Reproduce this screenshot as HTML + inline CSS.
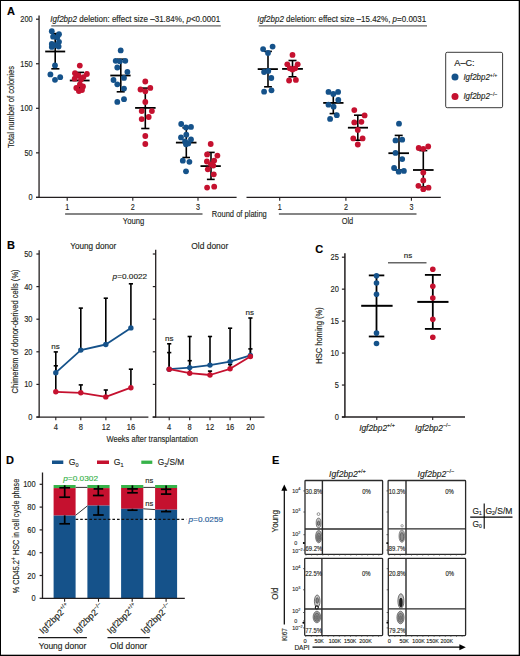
<!DOCTYPE html>
<html><head><meta charset="utf-8"><title>Figure</title><style>
html,body{margin:0;padding:0;background:#fff;overflow:hidden;}
svg{display:block;}
text{font-family:"Liberation Sans",sans-serif;}
</style></head><body>
<svg width="520" height="656" viewBox="0 0 520 656">
<rect x="0" y="0" width="520" height="656" fill="#fff"/>
<text x="6.9" y="14.9" font-size="11" fill="#000" font-weight="bold" stroke="#000" stroke-width="0.14">A</text>
<text x="7" y="249.1" font-size="11" fill="#000" font-weight="bold" stroke="#000" stroke-width="0.14">B</text>
<text x="315.2" y="252.9" font-size="11" fill="#000" font-weight="bold" stroke="#000" stroke-width="0.14">C</text>
<text x="6.1" y="463.8" font-size="11" fill="#000" font-weight="bold" stroke="#000" stroke-width="0.14">D</text>
<text x="271.9" y="463.8" font-size="11" fill="#000" font-weight="bold" stroke="#000" stroke-width="0.14">E</text>
<line x1="39.05" y1="15.4" x2="39.05" y2="197.4" stroke="#231f20" stroke-width="1.3"/>
<line x1="36" y1="19.2" x2="39" y2="19.2" stroke="#231f20" stroke-width="1.2"/>
<text x="32.6" y="22.2" font-size="8.5" fill="#231f20" text-anchor="end" textLength="12.3" lengthAdjust="spacingAndGlyphs" stroke="#231f20" stroke-width="0.14">200</text>
<line x1="36" y1="63.75" x2="39" y2="63.75" stroke="#231f20" stroke-width="1.2"/>
<text x="32.6" y="66.75" font-size="8.5" fill="#231f20" text-anchor="end" textLength="12.3" lengthAdjust="spacingAndGlyphs" stroke="#231f20" stroke-width="0.14">150</text>
<line x1="36" y1="108.3" x2="39" y2="108.3" stroke="#231f20" stroke-width="1.2"/>
<text x="32.6" y="111.3" font-size="8.5" fill="#231f20" text-anchor="end" textLength="12.3" lengthAdjust="spacingAndGlyphs" stroke="#231f20" stroke-width="0.14">100</text>
<line x1="36" y1="152.85" x2="39" y2="152.85" stroke="#231f20" stroke-width="1.2"/>
<text x="32.6" y="155.85" font-size="8.5" fill="#231f20" text-anchor="end" textLength="8.2" lengthAdjust="spacingAndGlyphs" stroke="#231f20" stroke-width="0.14">50</text>
<line x1="36" y1="197.4" x2="39" y2="197.4" stroke="#231f20" stroke-width="1.2"/>
<text x="32.6" y="200.4" font-size="8.5" fill="#231f20" text-anchor="end" textLength="4.1" lengthAdjust="spacingAndGlyphs" stroke="#231f20" stroke-width="0.14">0</text>
<line x1="36" y1="197.35" x2="236.6" y2="197.35" stroke="#231f20" stroke-width="1.3"/>
<line x1="246.5" y1="197.35" x2="440.8" y2="197.35" stroke="#231f20" stroke-width="1.3"/>
<line x1="67.2" y1="197.35" x2="67.2" y2="200.7" stroke="#231f20" stroke-width="1.1"/>
<text x="67.2" y="209.6" font-size="8.2" fill="#231f20" text-anchor="middle" textLength="4" lengthAdjust="spacingAndGlyphs" stroke="#231f20" stroke-width="0.14">1</text>
<line x1="132.8" y1="197.35" x2="132.8" y2="200.7" stroke="#231f20" stroke-width="1.1"/>
<text x="132.8" y="209.6" font-size="8.2" fill="#231f20" text-anchor="middle" textLength="4" lengthAdjust="spacingAndGlyphs" stroke="#231f20" stroke-width="0.14">2</text>
<line x1="198" y1="197.35" x2="198" y2="200.7" stroke="#231f20" stroke-width="1.1"/>
<text x="198" y="209.6" font-size="8.2" fill="#231f20" text-anchor="middle" textLength="4" lengthAdjust="spacingAndGlyphs" stroke="#231f20" stroke-width="0.14">3</text>
<line x1="279.7" y1="197.35" x2="279.7" y2="200.7" stroke="#231f20" stroke-width="1.1"/>
<text x="279.7" y="209.6" font-size="8.2" fill="#231f20" text-anchor="middle" textLength="4" lengthAdjust="spacingAndGlyphs" stroke="#231f20" stroke-width="0.14">1</text>
<line x1="345.9" y1="197.35" x2="345.9" y2="200.7" stroke="#231f20" stroke-width="1.1"/>
<text x="345.9" y="209.6" font-size="8.2" fill="#231f20" text-anchor="middle" textLength="4" lengthAdjust="spacingAndGlyphs" stroke="#231f20" stroke-width="0.14">2</text>
<line x1="411.4" y1="197.35" x2="411.4" y2="200.7" stroke="#231f20" stroke-width="1.1"/>
<text x="411.4" y="209.6" font-size="8.2" fill="#231f20" text-anchor="middle" textLength="4" lengthAdjust="spacingAndGlyphs" stroke="#231f20" stroke-width="0.14">3</text>
<line x1="65.1" y1="213.9" x2="202.5" y2="213.9" stroke="#5c5c5c" stroke-width="1.5"/>
<line x1="278.9" y1="213.9" x2="416.5" y2="213.9" stroke="#5c5c5c" stroke-width="1.5"/>
<text x="133.6" y="223.8" font-size="9.5" fill="#231f20" text-anchor="middle" textLength="21.5" lengthAdjust="spacingAndGlyphs" stroke="#231f20" stroke-width="0.14">Young</text>
<text x="347.4" y="223.8" font-size="9.5" fill="#231f20" text-anchor="middle" textLength="11.5" lengthAdjust="spacingAndGlyphs" stroke="#231f20" stroke-width="0.14">Old</text>
<text x="211.8" y="216.8" font-size="9.5" fill="#231f20" textLength="55" lengthAdjust="spacingAndGlyphs" stroke="#231f20" stroke-width="0.14">Round of plating</text>
<text transform="translate(14.2,107) rotate(-90)" font-size="9" fill="#231f20" text-anchor="middle" textLength="82" lengthAdjust="spacingAndGlyphs" stroke="#231f20" stroke-width="0.14">Total number of colonies</text>
<text x="50.2" y="21.6" font-size="8.5" fill="#231f20" textLength="170" lengthAdjust="spacingAndGlyphs" stroke="#231f20" stroke-width="0.14"><tspan font-style="italic">Igf2bp2</tspan> deletion: effect size –31.84%, <tspan font-style="italic">p</tspan>&lt;0.0001</text>
<text x="257.2" y="21.6" font-size="8.5" fill="#231f20" textLength="169" lengthAdjust="spacingAndGlyphs" stroke="#231f20" stroke-width="0.14"><tspan font-style="italic">Igf2bp2</tspan> deletion: effect size –15.42%, <tspan font-style="italic">p</tspan>=0.0031</text>
<line x1="51.3" y1="25.9" x2="220.8" y2="25.9" stroke="#666" stroke-width="1.4"/>
<line x1="258.7" y1="25.9" x2="427" y2="25.9" stroke="#666" stroke-width="1.4"/>
<rect x="445.7" y="52.3" width="56.9" height="55.4" rx="1.5" fill="#fff" stroke="#3a3a3a" stroke-width="1"/>
<text x="454.3" y="65.5" font-size="9.6" fill="#231f20" textLength="20.3" lengthAdjust="spacingAndGlyphs" stroke="#231f20" stroke-width="0.14">A–C:</text>
<circle cx="455" cy="77" r="3.5" fill="#15528a"/>
<circle cx="455" cy="96.5" r="3.5" fill="#c5112f"/>
<text x="463.4" y="80.3" font-size="8.4" fill="#231f20" font-style="italic" textLength="34" lengthAdjust="spacingAndGlyphs" stroke="#231f20" stroke-width="0.14">Igf2bp2<tspan font-size="5.5" dy="-3.6" font-style="normal">+/+</tspan></text>
<text x="463.4" y="99.3" font-size="8.4" fill="#231f20" font-style="italic" textLength="34" lengthAdjust="spacingAndGlyphs" stroke="#231f20" stroke-width="0.14">Igf2bp2<tspan font-size="5.5" dy="-3.6" font-style="normal">−/−</tspan></text>
<line x1="55.2" y1="33.6" x2="55.2" y2="68.8" stroke="#000" stroke-width="1.6"/>
<line x1="51.3" y1="33.6" x2="59.4" y2="33.6" stroke="#000" stroke-width="1.6"/>
<line x1="51.3" y1="68.8" x2="59.4" y2="68.8" stroke="#000" stroke-width="1.6"/>
<line x1="45.2" y1="51.5" x2="65.2" y2="51.5" stroke="#000" stroke-width="1.8"/>
<circle cx="51.8" cy="31.2" r="2.9" fill="#15528a"/>
<circle cx="59" cy="34.2" r="2.9" fill="#15528a"/>
<circle cx="53.1" cy="36.7" r="2.9" fill="#15528a"/>
<circle cx="57.3" cy="37.2" r="2.9" fill="#15528a"/>
<circle cx="59" cy="41.8" r="2.9" fill="#15528a"/>
<circle cx="51.8" cy="43.9" r="2.9" fill="#15528a"/>
<circle cx="56" cy="45.2" r="2.9" fill="#15528a"/>
<circle cx="58.6" cy="46.5" r="2.9" fill="#15528a"/>
<circle cx="51.8" cy="46.9" r="2.9" fill="#15528a"/>
<circle cx="55" cy="65.4" r="2.9" fill="#15528a"/>
<circle cx="50.4" cy="74.4" r="2.9" fill="#15528a"/>
<circle cx="55" cy="79.8" r="2.9" fill="#15528a"/>
<circle cx="60.2" cy="77.2" r="2.9" fill="#15528a"/>
<line x1="79.8" y1="72.4" x2="79.8" y2="88.6" stroke="#000" stroke-width="1.6"/>
<line x1="76" y1="72.4" x2="84" y2="72.4" stroke="#000" stroke-width="1.6"/>
<line x1="76" y1="88.6" x2="84" y2="88.6" stroke="#000" stroke-width="1.6"/>
<line x1="69.8" y1="80.5" x2="89.6" y2="80.5" stroke="#000" stroke-width="1.8"/>
<circle cx="79.8" cy="65.6" r="2.9" fill="#c5112f"/>
<circle cx="75" cy="73.2" r="2.9" fill="#c5112f"/>
<circle cx="86.9" cy="74" r="2.9" fill="#c5112f"/>
<circle cx="78.4" cy="75.5" r="2.9" fill="#c5112f"/>
<circle cx="83.5" cy="77.1" r="2.9" fill="#c5112f"/>
<circle cx="74.7" cy="78.7" r="2.9" fill="#c5112f"/>
<circle cx="81" cy="79.5" r="2.9" fill="#c5112f"/>
<circle cx="79.9" cy="84.4" r="2.9" fill="#c5112f"/>
<circle cx="76.3" cy="88" r="2.9" fill="#c5112f"/>
<circle cx="83" cy="86.4" r="2.9" fill="#c5112f"/>
<circle cx="78.9" cy="91.1" r="2.9" fill="#c5112f"/>
<circle cx="82" cy="90" r="2.9" fill="#c5112f"/>
<line x1="120.8" y1="59.2" x2="120.8" y2="91.8" stroke="#000" stroke-width="1.6"/>
<line x1="116.7" y1="59.2" x2="124.7" y2="59.2" stroke="#000" stroke-width="1.6"/>
<line x1="116.7" y1="91.8" x2="124.7" y2="91.8" stroke="#000" stroke-width="1.6"/>
<line x1="110.3" y1="75.5" x2="130.6" y2="75.5" stroke="#000" stroke-width="1.8"/>
<circle cx="120.7" cy="50.4" r="2.9" fill="#15528a"/>
<circle cx="115.7" cy="60.8" r="2.9" fill="#15528a"/>
<circle cx="119.9" cy="61.3" r="2.9" fill="#15528a"/>
<circle cx="125.3" cy="60.8" r="2.9" fill="#15528a"/>
<circle cx="117.3" cy="67.5" r="2.9" fill="#15528a"/>
<circle cx="127.4" cy="72" r="2.9" fill="#15528a"/>
<circle cx="124" cy="77.9" r="2.9" fill="#15528a"/>
<circle cx="113.5" cy="80" r="2.9" fill="#15528a"/>
<circle cx="117.3" cy="84.3" r="2.9" fill="#15528a"/>
<circle cx="124" cy="88.6" r="2.9" fill="#15528a"/>
<circle cx="117.3" cy="101.9" r="2.9" fill="#15528a"/>
<circle cx="124" cy="99.2" r="2.9" fill="#15528a"/>
<line x1="145.3" y1="88.1" x2="145.3" y2="128.5" stroke="#000" stroke-width="1.6"/>
<line x1="141.2" y1="88.1" x2="149.4" y2="88.1" stroke="#000" stroke-width="1.6"/>
<line x1="141.2" y1="128.5" x2="149.4" y2="128.5" stroke="#000" stroke-width="1.6"/>
<line x1="135.1" y1="107.9" x2="155.6" y2="107.9" stroke="#000" stroke-width="1.8"/>
<circle cx="145.3" cy="81.5" r="2.9" fill="#c5112f"/>
<circle cx="140.5" cy="89.5" r="2.9" fill="#c5112f"/>
<circle cx="150.3" cy="87.9" r="2.9" fill="#c5112f"/>
<circle cx="145.3" cy="91.3" r="2.9" fill="#c5112f"/>
<circle cx="145.3" cy="102" r="2.9" fill="#c5112f"/>
<circle cx="141.7" cy="111.1" r="2.9" fill="#c5112f"/>
<circle cx="151.9" cy="111.1" r="2.9" fill="#c5112f"/>
<circle cx="148.7" cy="117" r="2.9" fill="#c5112f"/>
<circle cx="141.7" cy="119.1" r="2.9" fill="#c5112f"/>
<circle cx="145.3" cy="136" r="2.9" fill="#c5112f"/>
<circle cx="145.3" cy="144" r="2.9" fill="#c5112f"/>
<line x1="186.3" y1="127.8" x2="186.3" y2="157.5" stroke="#000" stroke-width="1.6"/>
<line x1="182.4" y1="127.8" x2="190" y2="127.8" stroke="#000" stroke-width="1.6"/>
<line x1="182.4" y1="157.5" x2="190" y2="157.5" stroke="#000" stroke-width="1.6"/>
<line x1="175.9" y1="142.6" x2="196.5" y2="142.6" stroke="#000" stroke-width="1.8"/>
<circle cx="181.2" cy="124" r="2.9" fill="#15528a"/>
<circle cx="186" cy="127.4" r="2.9" fill="#15528a"/>
<circle cx="191" cy="126.9" r="2.9" fill="#15528a"/>
<circle cx="186.3" cy="134.7" r="2.9" fill="#15528a"/>
<circle cx="181" cy="137.4" r="2.9" fill="#15528a"/>
<circle cx="191" cy="139.5" r="2.9" fill="#15528a"/>
<circle cx="185.1" cy="141.5" r="2.9" fill="#15528a"/>
<circle cx="188.3" cy="143.4" r="2.9" fill="#15528a"/>
<circle cx="186" cy="144.3" r="2.9" fill="#15528a"/>
<circle cx="182.8" cy="160.7" r="2.9" fill="#15528a"/>
<circle cx="189.4" cy="161.8" r="2.9" fill="#15528a"/>
<circle cx="186" cy="171.3" r="2.9" fill="#15528a"/>
<line x1="211" y1="152.4" x2="211" y2="179.4" stroke="#000" stroke-width="1.6"/>
<line x1="206.9" y1="152.4" x2="214.7" y2="152.4" stroke="#000" stroke-width="1.6"/>
<line x1="206.9" y1="179.4" x2="214.7" y2="179.4" stroke="#000" stroke-width="1.6"/>
<line x1="200.5" y1="166.1" x2="220.8" y2="166.1" stroke="#000" stroke-width="1.8"/>
<circle cx="210.7" cy="144" r="2.9" fill="#c5112f"/>
<circle cx="207.1" cy="154.4" r="2.9" fill="#c5112f"/>
<circle cx="217.4" cy="155.6" r="2.9" fill="#c5112f"/>
<circle cx="214.2" cy="160.6" r="2.9" fill="#c5112f"/>
<circle cx="206.9" cy="161.5" r="2.9" fill="#c5112f"/>
<circle cx="211" cy="164.3" r="2.9" fill="#c5112f"/>
<circle cx="213.3" cy="165.6" r="2.9" fill="#c5112f"/>
<circle cx="207.8" cy="169.3" r="2.9" fill="#c5112f"/>
<circle cx="213.8" cy="174.3" r="2.9" fill="#c5112f"/>
<circle cx="207.1" cy="187.6" r="2.9" fill="#c5112f"/>
<circle cx="214.2" cy="186.7" r="2.9" fill="#c5112f"/>
<line x1="268" y1="51.4" x2="268" y2="86.8" stroke="#000" stroke-width="1.6"/>
<line x1="264.1" y1="51.4" x2="271.9" y2="51.4" stroke="#000" stroke-width="1.6"/>
<line x1="264.1" y1="86.8" x2="271.9" y2="86.8" stroke="#000" stroke-width="1.6"/>
<line x1="257.7" y1="69.1" x2="277.9" y2="69.1" stroke="#000" stroke-width="1.8"/>
<circle cx="263.1" cy="49.1" r="2.9" fill="#15528a"/>
<circle cx="272.6" cy="46.6" r="2.9" fill="#15528a"/>
<circle cx="268" cy="53" r="2.9" fill="#15528a"/>
<circle cx="264.1" cy="72" r="2.9" fill="#15528a"/>
<circle cx="268.3" cy="70.9" r="2.9" fill="#15528a"/>
<circle cx="271.3" cy="78" r="2.9" fill="#15528a"/>
<circle cx="264.1" cy="91.7" r="2.9" fill="#15528a"/>
<circle cx="271.5" cy="90.3" r="2.9" fill="#15528a"/>
<line x1="292.5" y1="60.5" x2="292.5" y2="76.8" stroke="#000" stroke-width="1.6"/>
<line x1="288.5" y1="60.5" x2="296.5" y2="60.5" stroke="#000" stroke-width="1.6"/>
<line x1="288.5" y1="76.8" x2="296.5" y2="76.8" stroke="#000" stroke-width="1.6"/>
<line x1="282.1" y1="68.9" x2="302.9" y2="68.9" stroke="#000" stroke-width="1.8"/>
<circle cx="292.5" cy="54.9" r="2.9" fill="#c5112f"/>
<circle cx="287.3" cy="64.3" r="2.9" fill="#c5112f"/>
<circle cx="297.7" cy="64.3" r="2.9" fill="#c5112f"/>
<circle cx="289.8" cy="68.3" r="2.9" fill="#c5112f"/>
<circle cx="292.5" cy="69.5" r="2.9" fill="#c5112f"/>
<circle cx="295.2" cy="68.3" r="2.9" fill="#c5112f"/>
<circle cx="289.1" cy="80.5" r="2.9" fill="#c5112f"/>
<circle cx="295.9" cy="79.9" r="2.9" fill="#c5112f"/>
<line x1="333.3" y1="93.3" x2="333.3" y2="113.6" stroke="#000" stroke-width="1.6"/>
<line x1="329.6" y1="93.3" x2="337" y2="93.3" stroke="#000" stroke-width="1.6"/>
<line x1="329.6" y1="113.6" x2="337" y2="113.6" stroke="#000" stroke-width="1.6"/>
<line x1="323.2" y1="102.9" x2="343.5" y2="102.9" stroke="#000" stroke-width="1.8"/>
<circle cx="328.5" cy="91.9" r="2.9" fill="#15528a"/>
<circle cx="333.3" cy="93.9" r="2.9" fill="#15528a"/>
<circle cx="338.1" cy="91.9" r="2.9" fill="#15528a"/>
<circle cx="338.3" cy="100" r="2.9" fill="#15528a"/>
<circle cx="328.5" cy="104.7" r="2.9" fill="#15528a"/>
<circle cx="333.6" cy="106.7" r="2.9" fill="#15528a"/>
<circle cx="336.8" cy="115.2" r="2.9" fill="#15528a"/>
<circle cx="330.1" cy="118.9" r="2.9" fill="#15528a"/>
<line x1="357.8" y1="115.2" x2="357.8" y2="140.2" stroke="#000" stroke-width="1.6"/>
<line x1="354" y1="115.2" x2="362" y2="115.2" stroke="#000" stroke-width="1.6"/>
<line x1="354" y1="140.2" x2="362" y2="140.2" stroke="#000" stroke-width="1.6"/>
<line x1="347.9" y1="127.7" x2="368" y2="127.7" stroke="#000" stroke-width="1.8"/>
<circle cx="354.3" cy="110.1" r="2.9" fill="#c5112f"/>
<circle cx="364.6" cy="115.4" r="2.9" fill="#c5112f"/>
<circle cx="354.3" cy="122.4" r="2.9" fill="#c5112f"/>
<circle cx="361.4" cy="121.8" r="2.9" fill="#c5112f"/>
<circle cx="357.8" cy="129.9" r="2.9" fill="#c5112f"/>
<circle cx="353.3" cy="138.4" r="2.9" fill="#c5112f"/>
<circle cx="362.6" cy="138.4" r="2.9" fill="#c5112f"/>
<circle cx="357.8" cy="144.5" r="2.9" fill="#c5112f"/>
<line x1="399" y1="135.4" x2="399" y2="170" stroke="#000" stroke-width="1.6"/>
<line x1="394.7" y1="135.4" x2="402.7" y2="135.4" stroke="#000" stroke-width="1.6"/>
<line x1="394.7" y1="170" x2="402.7" y2="170" stroke="#000" stroke-width="1.6"/>
<line x1="388.4" y1="153.2" x2="409" y2="153.2" stroke="#000" stroke-width="1.8"/>
<circle cx="399" cy="123.7" r="2.9" fill="#15528a"/>
<circle cx="395.5" cy="140.4" r="2.9" fill="#15528a"/>
<circle cx="402.2" cy="139.7" r="2.9" fill="#15528a"/>
<circle cx="395.5" cy="152.9" r="2.9" fill="#15528a"/>
<circle cx="402.2" cy="159.1" r="2.9" fill="#15528a"/>
<circle cx="394.1" cy="168" r="2.9" fill="#15528a"/>
<circle cx="398.7" cy="171.7" r="2.9" fill="#15528a"/>
<circle cx="403.9" cy="170.9" r="2.9" fill="#15528a"/>
<line x1="423.3" y1="150.6" x2="423.3" y2="187" stroke="#000" stroke-width="1.6"/>
<line x1="419.3" y1="150.6" x2="427.3" y2="150.6" stroke="#000" stroke-width="1.6"/>
<line x1="419.3" y1="187" x2="427.3" y2="187" stroke="#000" stroke-width="1.6"/>
<line x1="413" y1="170" x2="433.6" y2="170" stroke="#000" stroke-width="1.8"/>
<circle cx="418.7" cy="148" r="2.9" fill="#c5112f"/>
<circle cx="423.3" cy="148.8" r="2.9" fill="#c5112f"/>
<circle cx="428.2" cy="146.5" r="2.9" fill="#c5112f"/>
<circle cx="423.3" cy="172.6" r="2.9" fill="#c5112f"/>
<circle cx="423.3" cy="180.4" r="2.9" fill="#c5112f"/>
<circle cx="418.4" cy="185.8" r="2.9" fill="#c5112f"/>
<circle cx="423.3" cy="189.2" r="2.9" fill="#c5112f"/>
<circle cx="428.5" cy="187.7" r="2.9" fill="#c5112f"/>
<line x1="39.15" y1="250.2" x2="39.15" y2="417.6" stroke="#231f20" stroke-width="1.3"/>
<line x1="155.7" y1="249.8" x2="155.7" y2="417.6" stroke="#231f20" stroke-width="1.3"/>
<line x1="36.4" y1="254" x2="39.2" y2="254" stroke="#231f20" stroke-width="1.2"/>
<line x1="152.8" y1="254" x2="155.7" y2="254" stroke="#231f20" stroke-width="1.2"/>
<text x="32.5" y="257" font-size="8.5" fill="#231f20" text-anchor="end" textLength="8.3" lengthAdjust="spacingAndGlyphs" stroke="#231f20" stroke-width="0.14">50</text>
<line x1="36.4" y1="286.6" x2="39.2" y2="286.6" stroke="#231f20" stroke-width="1.2"/>
<line x1="152.8" y1="286.6" x2="155.7" y2="286.6" stroke="#231f20" stroke-width="1.2"/>
<text x="32.5" y="289.6" font-size="8.5" fill="#231f20" text-anchor="end" textLength="8.3" lengthAdjust="spacingAndGlyphs" stroke="#231f20" stroke-width="0.14">40</text>
<line x1="36.4" y1="319.2" x2="39.2" y2="319.2" stroke="#231f20" stroke-width="1.2"/>
<line x1="152.8" y1="319.2" x2="155.7" y2="319.2" stroke="#231f20" stroke-width="1.2"/>
<text x="32.5" y="322.2" font-size="8.5" fill="#231f20" text-anchor="end" textLength="8.3" lengthAdjust="spacingAndGlyphs" stroke="#231f20" stroke-width="0.14">30</text>
<line x1="36.4" y1="351.8" x2="39.2" y2="351.8" stroke="#231f20" stroke-width="1.2"/>
<line x1="152.8" y1="351.8" x2="155.7" y2="351.8" stroke="#231f20" stroke-width="1.2"/>
<text x="32.5" y="354.8" font-size="8.5" fill="#231f20" text-anchor="end" textLength="8.3" lengthAdjust="spacingAndGlyphs" stroke="#231f20" stroke-width="0.14">20</text>
<line x1="36.4" y1="384.4" x2="39.2" y2="384.4" stroke="#231f20" stroke-width="1.2"/>
<line x1="152.8" y1="384.4" x2="155.7" y2="384.4" stroke="#231f20" stroke-width="1.2"/>
<text x="32.5" y="387.4" font-size="8.5" fill="#231f20" text-anchor="end" textLength="8.3" lengthAdjust="spacingAndGlyphs" stroke="#231f20" stroke-width="0.14">10</text>
<line x1="36.4" y1="417" x2="39.2" y2="417" stroke="#231f20" stroke-width="1.2"/>
<line x1="152.8" y1="417" x2="155.7" y2="417" stroke="#231f20" stroke-width="1.2"/>
<text x="32.5" y="420" font-size="8.5" fill="#231f20" text-anchor="end" textLength="4.15" lengthAdjust="spacingAndGlyphs" stroke="#231f20" stroke-width="0.14">0</text>
<line x1="36.4" y1="417.05" x2="148.4" y2="417.05" stroke="#231f20" stroke-width="1.3"/>
<line x1="152.6" y1="417.05" x2="264.5" y2="417.05" stroke="#231f20" stroke-width="1.3"/>
<line x1="55.8" y1="417" x2="55.8" y2="420.3" stroke="#231f20" stroke-width="1.1"/>
<text x="55.8" y="429.6" font-size="8.5" fill="#231f20" text-anchor="middle" textLength="4.2" lengthAdjust="spacingAndGlyphs" stroke="#231f20" stroke-width="0.14">4</text>
<line x1="80.8" y1="417" x2="80.8" y2="420.3" stroke="#231f20" stroke-width="1.1"/>
<text x="80.8" y="429.6" font-size="8.5" fill="#231f20" text-anchor="middle" textLength="4.2" lengthAdjust="spacingAndGlyphs" stroke="#231f20" stroke-width="0.14">8</text>
<line x1="105.9" y1="417" x2="105.9" y2="420.3" stroke="#231f20" stroke-width="1.1"/>
<text x="105.9" y="429.6" font-size="8.5" fill="#231f20" text-anchor="middle" textLength="8.4" lengthAdjust="spacingAndGlyphs" stroke="#231f20" stroke-width="0.14">12</text>
<line x1="130.9" y1="417" x2="130.9" y2="420.3" stroke="#231f20" stroke-width="1.1"/>
<text x="130.9" y="429.6" font-size="8.5" fill="#231f20" text-anchor="middle" textLength="8.4" lengthAdjust="spacingAndGlyphs" stroke="#231f20" stroke-width="0.14">16</text>
<line x1="169.2" y1="417" x2="169.2" y2="420.3" stroke="#231f20" stroke-width="1.1"/>
<text x="169.2" y="429.6" font-size="8.5" fill="#231f20" text-anchor="middle" textLength="4.2" lengthAdjust="spacingAndGlyphs" stroke="#231f20" stroke-width="0.14">4</text>
<line x1="189.7" y1="417" x2="189.7" y2="420.3" stroke="#231f20" stroke-width="1.1"/>
<text x="189.7" y="429.6" font-size="8.5" fill="#231f20" text-anchor="middle" textLength="4.2" lengthAdjust="spacingAndGlyphs" stroke="#231f20" stroke-width="0.14">8</text>
<line x1="210" y1="417" x2="210" y2="420.3" stroke="#231f20" stroke-width="1.1"/>
<text x="210" y="429.6" font-size="8.5" fill="#231f20" text-anchor="middle" textLength="8.4" lengthAdjust="spacingAndGlyphs" stroke="#231f20" stroke-width="0.14">12</text>
<line x1="230.1" y1="417" x2="230.1" y2="420.3" stroke="#231f20" stroke-width="1.1"/>
<text x="230.1" y="429.6" font-size="8.5" fill="#231f20" text-anchor="middle" textLength="8.4" lengthAdjust="spacingAndGlyphs" stroke="#231f20" stroke-width="0.14">16</text>
<line x1="250.4" y1="417" x2="250.4" y2="420.3" stroke="#231f20" stroke-width="1.1"/>
<text x="250.4" y="429.6" font-size="8.5" fill="#231f20" text-anchor="middle" textLength="8.4" lengthAdjust="spacingAndGlyphs" stroke="#231f20" stroke-width="0.14">20</text>
<text x="93.3" y="249.3" font-size="8.5" fill="#231f20" text-anchor="middle" textLength="46" lengthAdjust="spacingAndGlyphs" stroke="#231f20" stroke-width="0.14">Young donor</text>
<text x="209.8" y="249.3" font-size="8.5" fill="#231f20" text-anchor="middle" textLength="37" lengthAdjust="spacingAndGlyphs" stroke="#231f20" stroke-width="0.14">Old donor</text>
<text x="112.6" y="279.3" font-size="8" fill="#231f20" textLength="34.6" lengthAdjust="spacingAndGlyphs" stroke="#231f20" stroke-width="0.14"><tspan font-style="italic">p</tspan>=0.0022</text>
<text x="55.5" y="348.6" font-size="8" fill="#231f20" text-anchor="middle" stroke="#231f20" stroke-width="0.14">ns</text>
<text x="169.2" y="340.5" font-size="8" fill="#231f20" text-anchor="middle" stroke="#231f20" stroke-width="0.14">ns</text>
<text x="249.7" y="315.1" font-size="8" fill="#231f20" text-anchor="middle" stroke="#231f20" stroke-width="0.14">ns</text>
<text x="106.5" y="442.1" font-size="9.4" fill="#231f20" textLength="91.5" lengthAdjust="spacingAndGlyphs" stroke="#231f20" stroke-width="0.14">Weeks after transplantation</text>
<text transform="translate(18,331.4) rotate(-90)" font-size="8.9" fill="#231f20" text-anchor="middle" textLength="124" lengthAdjust="spacingAndGlyphs" stroke="#231f20" stroke-width="0.14">Chimerism of donor-derived cells (%)</text>
<line x1="55.8" y1="372.7" x2="55.8" y2="351.9" stroke="#000" stroke-width="1.6"/>
<line x1="53.7" y1="351.9" x2="57.9" y2="351.9" stroke="#000" stroke-width="1.6"/>
<line x1="80.8" y1="350.1" x2="80.8" y2="308.1" stroke="#000" stroke-width="1.6"/>
<line x1="78.7" y1="308.1" x2="82.9" y2="308.1" stroke="#000" stroke-width="1.6"/>
<line x1="105.8" y1="344.5" x2="105.8" y2="298.2" stroke="#000" stroke-width="1.6"/>
<line x1="103.7" y1="298.2" x2="107.9" y2="298.2" stroke="#000" stroke-width="1.6"/>
<line x1="130.9" y1="327.9" x2="130.9" y2="283.8" stroke="#000" stroke-width="1.6"/>
<line x1="128.8" y1="283.8" x2="133" y2="283.8" stroke="#000" stroke-width="1.6"/>
<line x1="55.8" y1="391.8" x2="55.8" y2="365.8" stroke="#000" stroke-width="1.6"/>
<line x1="53.7" y1="365.8" x2="57.9" y2="365.8" stroke="#000" stroke-width="1.6"/>
<line x1="80.8" y1="392.8" x2="80.8" y2="384.9" stroke="#000" stroke-width="1.6"/>
<line x1="78.7" y1="384.9" x2="82.9" y2="384.9" stroke="#000" stroke-width="1.6"/>
<line x1="105.8" y1="396.9" x2="105.8" y2="390" stroke="#000" stroke-width="1.6"/>
<line x1="103.7" y1="390" x2="107.9" y2="390" stroke="#000" stroke-width="1.6"/>
<line x1="130.9" y1="387.7" x2="130.9" y2="369.2" stroke="#000" stroke-width="1.6"/>
<line x1="128.8" y1="369.2" x2="133" y2="369.2" stroke="#000" stroke-width="1.6"/>
<line x1="169.2" y1="369.2" x2="169.2" y2="343.8" stroke="#000" stroke-width="1.6"/>
<line x1="167.1" y1="343.8" x2="171.3" y2="343.8" stroke="#000" stroke-width="1.6"/>
<line x1="189.7" y1="367.6" x2="189.7" y2="336.5" stroke="#000" stroke-width="1.6"/>
<line x1="187.6" y1="336.5" x2="191.8" y2="336.5" stroke="#000" stroke-width="1.6"/>
<line x1="210" y1="365.1" x2="210" y2="336.5" stroke="#000" stroke-width="1.6"/>
<line x1="207.9" y1="336.5" x2="212.1" y2="336.5" stroke="#000" stroke-width="1.6"/>
<line x1="230.1" y1="361.6" x2="230.1" y2="328.2" stroke="#000" stroke-width="1.6"/>
<line x1="228" y1="328.2" x2="232.2" y2="328.2" stroke="#000" stroke-width="1.6"/>
<line x1="250.4" y1="355.4" x2="250.4" y2="318" stroke="#000" stroke-width="1.6"/>
<line x1="248.3" y1="318" x2="252.5" y2="318" stroke="#000" stroke-width="1.6"/>
<line x1="169.2" y1="369.2" x2="169.2" y2="352.6" stroke="#000" stroke-width="1.6"/>
<line x1="167.1" y1="352.6" x2="171.3" y2="352.6" stroke="#000" stroke-width="1.6"/>
<line x1="189.7" y1="373.2" x2="189.7" y2="360.7" stroke="#000" stroke-width="1.6"/>
<line x1="187.6" y1="360.7" x2="191.8" y2="360.7" stroke="#000" stroke-width="1.6"/>
<line x1="210" y1="375" x2="210" y2="371.1" stroke="#000" stroke-width="1.6"/>
<line x1="207.9" y1="371.1" x2="212.1" y2="371.1" stroke="#000" stroke-width="1.6"/>
<line x1="230.1" y1="368.8" x2="230.1" y2="364.6" stroke="#000" stroke-width="1.6"/>
<line x1="228" y1="364.6" x2="232.2" y2="364.6" stroke="#000" stroke-width="1.6"/>
<line x1="250.4" y1="356.5" x2="250.4" y2="348.9" stroke="#000" stroke-width="1.6"/>
<line x1="248.3" y1="348.9" x2="252.5" y2="348.9" stroke="#000" stroke-width="1.6"/>
<polyline points="55.8,372.7 80.8,350.1 105.8,344.5 130.9,327.9" fill="none" stroke="#15528a" stroke-width="1.8" stroke-linejoin="round"/>
<circle cx="55.8" cy="372.7" r="2.7" fill="#15528a"/>
<circle cx="80.8" cy="350.1" r="2.7" fill="#15528a"/>
<circle cx="105.8" cy="344.5" r="2.7" fill="#15528a"/>
<circle cx="130.9" cy="327.9" r="2.7" fill="#15528a"/>
<polyline points="55.8,391.8 80.8,392.8 105.8,396.9 130.9,387.7" fill="none" stroke="#c5112f" stroke-width="1.8" stroke-linejoin="round"/>
<circle cx="55.8" cy="391.8" r="2.7" fill="#c5112f"/>
<circle cx="80.8" cy="392.8" r="2.7" fill="#c5112f"/>
<circle cx="105.8" cy="396.9" r="2.7" fill="#c5112f"/>
<circle cx="130.9" cy="387.7" r="2.7" fill="#c5112f"/>
<polyline points="169.2,369.2 189.7,367.6 210,365.1 230.1,361.6 250.4,355.4" fill="none" stroke="#15528a" stroke-width="1.8" stroke-linejoin="round"/>
<circle cx="169.2" cy="369.2" r="2.7" fill="#15528a"/>
<circle cx="189.7" cy="367.6" r="2.7" fill="#15528a"/>
<circle cx="210" cy="365.1" r="2.7" fill="#15528a"/>
<circle cx="230.1" cy="361.6" r="2.7" fill="#15528a"/>
<circle cx="250.4" cy="355.4" r="2.7" fill="#15528a"/>
<polyline points="169.2,369.2 189.7,373.2 210,375 230.1,368.8 250.4,356.5" fill="none" stroke="#c5112f" stroke-width="1.8" stroke-linejoin="round"/>
<circle cx="169.2" cy="369.2" r="2.7" fill="#c5112f"/>
<circle cx="189.7" cy="373.2" r="2.7" fill="#c5112f"/>
<circle cx="210" cy="375" r="2.7" fill="#c5112f"/>
<circle cx="230.1" cy="368.8" r="2.7" fill="#c5112f"/>
<circle cx="250.4" cy="356.5" r="2.7" fill="#c5112f"/>
<line x1="344.9" y1="253.2" x2="344.9" y2="417.2" stroke="#231f20" stroke-width="1.5"/>
<line x1="341.9" y1="257.2" x2="344.9" y2="257.2" stroke="#231f20" stroke-width="1.2"/>
<text x="338.8" y="260.2" font-size="8.5" fill="#231f20" text-anchor="end" textLength="8.3" lengthAdjust="spacingAndGlyphs" stroke="#231f20" stroke-width="0.14">25</text>
<line x1="341.9" y1="289.16" x2="344.9" y2="289.16" stroke="#231f20" stroke-width="1.2"/>
<text x="338.8" y="292.16" font-size="8.5" fill="#231f20" text-anchor="end" textLength="8.3" lengthAdjust="spacingAndGlyphs" stroke="#231f20" stroke-width="0.14">20</text>
<line x1="341.9" y1="321.12" x2="344.9" y2="321.12" stroke="#231f20" stroke-width="1.2"/>
<text x="338.8" y="324.12" font-size="8.5" fill="#231f20" text-anchor="end" textLength="8.3" lengthAdjust="spacingAndGlyphs" stroke="#231f20" stroke-width="0.14">15</text>
<line x1="341.9" y1="353.08" x2="344.9" y2="353.08" stroke="#231f20" stroke-width="1.2"/>
<text x="338.8" y="356.08" font-size="8.5" fill="#231f20" text-anchor="end" textLength="8.3" lengthAdjust="spacingAndGlyphs" stroke="#231f20" stroke-width="0.14">10</text>
<line x1="341.9" y1="385.04" x2="344.9" y2="385.04" stroke="#231f20" stroke-width="1.2"/>
<text x="338.8" y="388.04" font-size="8.5" fill="#231f20" text-anchor="end" textLength="4.15" lengthAdjust="spacingAndGlyphs" stroke="#231f20" stroke-width="0.14">5</text>
<line x1="341.9" y1="417" x2="344.9" y2="417" stroke="#231f20" stroke-width="1.2"/>
<text x="338.8" y="420" font-size="8.5" fill="#231f20" text-anchor="end" textLength="4.15" lengthAdjust="spacingAndGlyphs" stroke="#231f20" stroke-width="0.14">0</text>
<line x1="341.9" y1="417" x2="465" y2="417" stroke="#231f20" stroke-width="1.5"/>
<line x1="376.8" y1="417" x2="376.8" y2="420" stroke="#231f20" stroke-width="1.1"/>
<line x1="432.7" y1="417" x2="432.7" y2="420" stroke="#231f20" stroke-width="1.1"/>
<text x="377" y="430.8" font-size="8.4" fill="#231f20" text-anchor="middle" font-style="italic" stroke="#231f20" stroke-width="0.14">Igf2bp2<tspan font-size="5.4" dy="-3.5" font-style="normal">+/+</tspan></text>
<text x="432.8" y="430.8" font-size="8.4" fill="#231f20" text-anchor="middle" font-style="italic" stroke="#231f20" stroke-width="0.14">Igf2bp2<tspan font-size="5.4" dy="-3.5" font-style="normal">−/−</tspan></text>
<text transform="translate(322.2,335.5) rotate(-90)" font-size="8.6" fill="#231f20" text-anchor="middle" textLength="56.5" lengthAdjust="spacingAndGlyphs" stroke="#231f20" stroke-width="0.14">HSC homing (%)</text>
<text x="408.1" y="258.2" font-size="8" fill="#231f20" text-anchor="middle" stroke="#231f20" stroke-width="0.14">ns</text>
<line x1="388" y1="262.7" x2="426.5" y2="262.7" stroke="#666" stroke-width="1.5"/>
<line x1="376.5" y1="275.4" x2="376.5" y2="336.5" stroke="#000" stroke-width="1.8"/>
<line x1="368.8" y1="275.4" x2="384.3" y2="275.4" stroke="#000" stroke-width="1.8"/>
<line x1="368.8" y1="336.5" x2="384.3" y2="336.5" stroke="#000" stroke-width="1.8"/>
<line x1="361.2" y1="305.8" x2="392.6" y2="305.8" stroke="#000" stroke-width="2.0"/>
<line x1="432.8" y1="274.9" x2="432.8" y2="328.9" stroke="#000" stroke-width="1.8"/>
<line x1="424.9" y1="274.9" x2="440.9" y2="274.9" stroke="#000" stroke-width="1.8"/>
<line x1="424.9" y1="328.9" x2="440.9" y2="328.9" stroke="#000" stroke-width="1.8"/>
<line x1="417.3" y1="301.9" x2="448.5" y2="301.9" stroke="#000" stroke-width="2.0"/>
<circle cx="376.5" cy="275.8" r="2.8" fill="#15528a"/>
<circle cx="376.5" cy="283" r="2.8" fill="#15528a"/>
<circle cx="376.5" cy="294.3" r="2.8" fill="#15528a"/>
<circle cx="376.5" cy="333.1" r="2.8" fill="#15528a"/>
<circle cx="376.5" cy="343.5" r="2.8" fill="#15528a"/>
<circle cx="432.8" cy="269.2" r="2.8" fill="#c5112f"/>
<circle cx="432.8" cy="286.2" r="2.8" fill="#c5112f"/>
<circle cx="432.8" cy="298" r="2.8" fill="#c5112f"/>
<circle cx="432.8" cy="319.2" r="2.8" fill="#c5112f"/>
<circle cx="432.8" cy="337.2" r="2.8" fill="#c5112f"/>
<rect x="52" y="460.5" width="11.3" height="3.5" fill="#15528a"/>
<rect x="97" y="460.5" width="12" height="3.5" fill="#c5112f"/>
<rect x="141.3" y="460.6" width="11" height="3.3" fill="#37b34a"/>
<text x="68.7" y="464.9" font-size="8.6" fill="#231f20" stroke="#231f20" stroke-width="0.14">G<tspan font-size="5.5" dy="1.6">0</tspan></text>
<text x="113.7" y="464.9" font-size="8.6" fill="#231f20" stroke="#231f20" stroke-width="0.14">G<tspan font-size="5.5" dy="1.6">1</tspan></text>
<text x="157.7" y="464.9" font-size="8.6" fill="#231f20" textLength="26.5" lengthAdjust="spacingAndGlyphs" stroke="#231f20" stroke-width="0.14">G<tspan font-size="5.5" dy="1.6">2</tspan><tspan dy="-1.6">/S/M</tspan></text>
<rect x="53.6" y="485" width="22" height="3.1" fill="#37b34a"/>
<rect x="53.6" y="488.1" width="22" height="27.5" fill="#c5112f"/>
<rect x="53.6" y="515.6" width="22" height="82.7" fill="#15528a"/>
<rect x="87.4" y="485" width="22.2" height="3.1" fill="#37b34a"/>
<rect x="87.4" y="488.1" width="22.2" height="17.5" fill="#c5112f"/>
<rect x="87.4" y="505.6" width="22.2" height="92.7" fill="#15528a"/>
<rect x="121.1" y="485" width="22.2" height="3" fill="#37b34a"/>
<rect x="121.1" y="488" width="22.2" height="20.8" fill="#c5112f"/>
<rect x="121.1" y="508.8" width="22.2" height="89.5" fill="#15528a"/>
<rect x="155.1" y="485" width="22" height="3" fill="#37b34a"/>
<rect x="155.1" y="488" width="22" height="21.7" fill="#c5112f"/>
<rect x="155.1" y="509.7" width="22" height="88.6" fill="#15528a"/>
<line x1="42.5" y1="472.5" x2="42.5" y2="598.9" stroke="#231f20" stroke-width="1.3"/>
<line x1="39.6" y1="484.3" x2="42.5" y2="484.3" stroke="#231f20" stroke-width="1.2"/>
<text x="35.6" y="487.3" font-size="8.5" fill="#231f20" text-anchor="end" textLength="12.45" lengthAdjust="spacingAndGlyphs" stroke="#231f20" stroke-width="0.14">100</text>
<line x1="39.6" y1="507.1" x2="42.5" y2="507.1" stroke="#231f20" stroke-width="1.2"/>
<text x="35.6" y="510.1" font-size="8.5" fill="#231f20" text-anchor="end" textLength="8.3" lengthAdjust="spacingAndGlyphs" stroke="#231f20" stroke-width="0.14">80</text>
<line x1="39.6" y1="529.9" x2="42.5" y2="529.9" stroke="#231f20" stroke-width="1.2"/>
<text x="35.6" y="532.9" font-size="8.5" fill="#231f20" text-anchor="end" textLength="8.3" lengthAdjust="spacingAndGlyphs" stroke="#231f20" stroke-width="0.14">60</text>
<line x1="39.6" y1="552.7" x2="42.5" y2="552.7" stroke="#231f20" stroke-width="1.2"/>
<text x="35.6" y="555.7" font-size="8.5" fill="#231f20" text-anchor="end" textLength="8.3" lengthAdjust="spacingAndGlyphs" stroke="#231f20" stroke-width="0.14">40</text>
<line x1="39.6" y1="575.5" x2="42.5" y2="575.5" stroke="#231f20" stroke-width="1.2"/>
<text x="35.6" y="578.5" font-size="8.5" fill="#231f20" text-anchor="end" textLength="8.3" lengthAdjust="spacingAndGlyphs" stroke="#231f20" stroke-width="0.14">20</text>
<line x1="39.6" y1="598.3" x2="42.5" y2="598.3" stroke="#231f20" stroke-width="1.2"/>
<text x="35.6" y="601.3" font-size="8.5" fill="#231f20" text-anchor="end" textLength="4.15" lengthAdjust="spacingAndGlyphs" stroke="#231f20" stroke-width="0.14">0</text>
<line x1="41.9" y1="598.3" x2="184.8" y2="598.3" stroke="#231f20" stroke-width="1.3"/>
<line x1="64.6" y1="598.3" x2="64.6" y2="601.7" stroke="#231f20" stroke-width="1.1"/>
<line x1="98.5" y1="598.3" x2="98.5" y2="601.7" stroke="#231f20" stroke-width="1.1"/>
<line x1="132.2" y1="598.3" x2="132.2" y2="601.7" stroke="#231f20" stroke-width="1.1"/>
<line x1="166.1" y1="598.3" x2="166.1" y2="601.7" stroke="#231f20" stroke-width="1.1"/>
<line x1="64.7" y1="485.3" x2="64.7" y2="497.2" stroke="#000" stroke-width="1.7"/>
<line x1="59.3" y1="487.8" x2="70.1" y2="487.8" stroke="#000" stroke-width="1.7"/>
<line x1="59.3" y1="497.2" x2="70.1" y2="497.2" stroke="#000" stroke-width="1.7"/>
<line x1="64.7" y1="515.4" x2="64.7" y2="523.8" stroke="#000" stroke-width="1.7"/>
<line x1="59.4" y1="523.8" x2="70" y2="523.8" stroke="#000" stroke-width="1.7"/>
<line x1="98.3" y1="485.4" x2="98.3" y2="495.5" stroke="#000" stroke-width="1.7"/>
<line x1="93.6" y1="488.9" x2="103.2" y2="488.9" stroke="#000" stroke-width="1.7"/>
<line x1="92.9" y1="495.5" x2="103.7" y2="495.5" stroke="#000" stroke-width="1.7"/>
<line x1="98.3" y1="505.6" x2="98.3" y2="515" stroke="#000" stroke-width="1.7"/>
<line x1="93.1" y1="515" x2="103.7" y2="515" stroke="#000" stroke-width="1.7"/>
<line x1="132.4" y1="485.4" x2="132.4" y2="492.8" stroke="#000" stroke-width="1.7"/>
<line x1="127.2" y1="488.9" x2="137.8" y2="488.9" stroke="#000" stroke-width="1.7"/>
<line x1="127.2" y1="492.8" x2="137.8" y2="492.8" stroke="#000" stroke-width="1.7"/>
<line x1="132.4" y1="508.8" x2="132.4" y2="510.2" stroke="#000" stroke-width="1.7"/>
<line x1="127.4" y1="510.2" x2="137.6" y2="510.2" stroke="#000" stroke-width="1.7"/>
<line x1="166.1" y1="485.4" x2="166.1" y2="494.1" stroke="#000" stroke-width="1.7"/>
<line x1="160.9" y1="489.3" x2="171.3" y2="489.3" stroke="#000" stroke-width="1.7"/>
<line x1="160.9" y1="494.1" x2="171.3" y2="494.1" stroke="#000" stroke-width="1.7"/>
<line x1="166.1" y1="509.7" x2="166.1" y2="511.6" stroke="#000" stroke-width="1.7"/>
<line x1="161" y1="511.6" x2="171.2" y2="511.6" stroke="#000" stroke-width="1.7"/>
<line x1="75.6" y1="487.4" x2="87.4" y2="487.4" stroke="#333" stroke-width="1.0"/>
<line x1="75.6" y1="515.3" x2="87.4" y2="505.9" stroke="#333" stroke-width="1.0"/>
<line x1="143.3" y1="487.4" x2="155.1" y2="487.4" stroke="#333" stroke-width="1.0"/>
<line x1="143.3" y1="508.8" x2="155.1" y2="509.6" stroke="#333" stroke-width="1.0"/>
<line x1="75.6" y1="519.4" x2="186.2" y2="519.4" stroke="#111" stroke-width="1.3" stroke-dasharray="2.6,2.0"/>
<text x="63.2" y="480.8" font-size="8" fill="#37b34a" textLength="34.9" lengthAdjust="spacingAndGlyphs" stroke="#37b34a" stroke-width="0.14"><tspan font-style="italic">p</tspan>=0.0302</text>
<text x="188.5" y="521.8" font-size="8" fill="#1f5c99" textLength="34.6" lengthAdjust="spacingAndGlyphs" stroke="#1f5c99" stroke-width="0.14"><tspan font-style="italic">p</tspan>=0.0259</text>
<text x="149.2" y="482.9" font-size="7.6" fill="#231f20" text-anchor="middle" stroke="#231f20" stroke-width="0.14">ns</text>
<text x="149.2" y="506.4" font-size="7.6" fill="#231f20" text-anchor="middle" stroke="#231f20" stroke-width="0.14">ns</text>
<text transform="translate(70.2,607) rotate(-45)" font-size="9" fill="#231f20" text-anchor="end" stroke="#231f20" stroke-width="0.14">Igf2bp2<tspan font-size="5.8" dy="-3.7">+/+</tspan></text>
<text transform="translate(104.1,607) rotate(-45)" font-size="9" fill="#231f20" text-anchor="end" stroke="#231f20" stroke-width="0.14">Igf2bp2<tspan font-size="5.8" dy="-3.7">−/−</tspan></text>
<text transform="translate(137.8,607) rotate(-45)" font-size="9" fill="#231f20" text-anchor="end" stroke="#231f20" stroke-width="0.14">Igf2bp2<tspan font-size="5.8" dy="-3.7">+/+</tspan></text>
<text transform="translate(171.7,607) rotate(-45)" font-size="9" fill="#231f20" text-anchor="end" stroke="#231f20" stroke-width="0.14">Igf2bp2<tspan font-size="5.8" dy="-3.7">−/−</tspan></text>
<line x1="38.1" y1="637.7" x2="86.9" y2="637.7" stroke="#1a1a1a" stroke-width="1.3"/>
<line x1="107.5" y1="637.7" x2="149.8" y2="637.7" stroke="#1a1a1a" stroke-width="1.3"/>
<text x="62.6" y="649.4" font-size="8.4" fill="#231f20" text-anchor="middle" textLength="47.5" lengthAdjust="spacingAndGlyphs" stroke="#231f20" stroke-width="0.14">Young donor</text>
<text x="128.6" y="649.4" font-size="8.4" fill="#231f20" text-anchor="middle" textLength="37" lengthAdjust="spacingAndGlyphs" stroke="#231f20" stroke-width="0.14">Old donor</text>
<text transform="translate(18.9,536) rotate(-90)" font-size="9.3" fill="#231f20" text-anchor="middle" textLength="114.5" lengthAdjust="spacingAndGlyphs" stroke="#231f20" stroke-width="0.14">% CD45.2<tspan font-size="6.6" dy="-3.3">+</tspan><tspan dy="3.3"> HSC in cell cycle phase</tspan></text>
<rect x="305" y="480.5" width="77.6" height="73.8" fill="none" stroke="#2a2a2a" stroke-width="1.3" rx="0.8"/>
<line x1="322.4" y1="480.5" x2="322.4" y2="554.3" stroke="#2a2a2a" stroke-width="1.4"/>
<line x1="305" y1="529" x2="382.6" y2="529" stroke="#2a2a2a" stroke-width="1.4"/>
<line x1="303.4" y1="490.9" x2="305" y2="490.9" stroke="#333" stroke-width="0.8"/>
<line x1="303.4" y1="512" x2="305" y2="512" stroke="#333" stroke-width="0.8"/>
<line x1="303.4" y1="534.7" x2="305" y2="534.7" stroke="#333" stroke-width="0.8"/>
<line x1="303.4" y1="543.1" x2="305" y2="543.1" stroke="#333" stroke-width="0.8"/>
<line x1="303.4" y1="550.1" x2="305" y2="550.1" stroke="#333" stroke-width="0.8"/>
<line x1="306" y1="554.3" x2="306" y2="555.7" stroke="#444" stroke-width="0.6"/>
<line x1="311.6" y1="554.3" x2="311.6" y2="555.7" stroke="#444" stroke-width="0.6"/>
<line x1="317.2" y1="554.3" x2="317.2" y2="555.7" stroke="#444" stroke-width="0.6"/>
<line x1="322.8" y1="554.3" x2="322.8" y2="555.7" stroke="#444" stroke-width="0.6"/>
<line x1="328.4" y1="554.3" x2="328.4" y2="555.7" stroke="#444" stroke-width="0.6"/>
<line x1="334" y1="554.3" x2="334" y2="555.7" stroke="#444" stroke-width="0.6"/>
<line x1="339.6" y1="554.3" x2="339.6" y2="555.7" stroke="#444" stroke-width="0.6"/>
<line x1="345.2" y1="554.3" x2="345.2" y2="555.7" stroke="#444" stroke-width="0.6"/>
<line x1="350.8" y1="554.3" x2="350.8" y2="555.7" stroke="#444" stroke-width="0.6"/>
<line x1="356.4" y1="554.3" x2="356.4" y2="555.7" stroke="#444" stroke-width="0.6"/>
<line x1="362" y1="554.3" x2="362" y2="555.7" stroke="#444" stroke-width="0.6"/>
<line x1="367.6" y1="554.3" x2="367.6" y2="555.7" stroke="#444" stroke-width="0.6"/>
<line x1="373.2" y1="554.3" x2="373.2" y2="555.7" stroke="#444" stroke-width="0.6"/>
<line x1="378.8" y1="554.3" x2="378.8" y2="555.7" stroke="#444" stroke-width="0.6"/>
<rect x="388.1" y="480.5" width="77.5" height="73.8" fill="none" stroke="#2a2a2a" stroke-width="1.3" rx="0.8"/>
<line x1="406" y1="480.5" x2="406" y2="554.3" stroke="#2a2a2a" stroke-width="1.4"/>
<line x1="388.1" y1="528.9" x2="465.6" y2="528.9" stroke="#2a2a2a" stroke-width="1.4"/>
<line x1="386.5" y1="490.9" x2="388.1" y2="490.9" stroke="#333" stroke-width="0.8"/>
<line x1="386.5" y1="512" x2="388.1" y2="512" stroke="#333" stroke-width="0.8"/>
<line x1="386.5" y1="534.7" x2="388.1" y2="534.7" stroke="#333" stroke-width="0.8"/>
<line x1="386.5" y1="543.1" x2="388.1" y2="543.1" stroke="#333" stroke-width="0.8"/>
<line x1="386.5" y1="550.1" x2="388.1" y2="550.1" stroke="#333" stroke-width="0.8"/>
<line x1="389.1" y1="554.3" x2="389.1" y2="555.7" stroke="#444" stroke-width="0.6"/>
<line x1="394.7" y1="554.3" x2="394.7" y2="555.7" stroke="#444" stroke-width="0.6"/>
<line x1="400.3" y1="554.3" x2="400.3" y2="555.7" stroke="#444" stroke-width="0.6"/>
<line x1="405.9" y1="554.3" x2="405.9" y2="555.7" stroke="#444" stroke-width="0.6"/>
<line x1="411.5" y1="554.3" x2="411.5" y2="555.7" stroke="#444" stroke-width="0.6"/>
<line x1="417.1" y1="554.3" x2="417.1" y2="555.7" stroke="#444" stroke-width="0.6"/>
<line x1="422.7" y1="554.3" x2="422.7" y2="555.7" stroke="#444" stroke-width="0.6"/>
<line x1="428.3" y1="554.3" x2="428.3" y2="555.7" stroke="#444" stroke-width="0.6"/>
<line x1="433.9" y1="554.3" x2="433.9" y2="555.7" stroke="#444" stroke-width="0.6"/>
<line x1="439.5" y1="554.3" x2="439.5" y2="555.7" stroke="#444" stroke-width="0.6"/>
<line x1="445.1" y1="554.3" x2="445.1" y2="555.7" stroke="#444" stroke-width="0.6"/>
<line x1="450.7" y1="554.3" x2="450.7" y2="555.7" stroke="#444" stroke-width="0.6"/>
<line x1="456.3" y1="554.3" x2="456.3" y2="555.7" stroke="#444" stroke-width="0.6"/>
<line x1="461.9" y1="554.3" x2="461.9" y2="555.7" stroke="#444" stroke-width="0.6"/>
<rect x="304.7" y="558.3" width="77.9" height="77.3" fill="none" stroke="#2a2a2a" stroke-width="1.3" rx="0.8"/>
<line x1="321.9" y1="558.3" x2="321.9" y2="635.6" stroke="#2a2a2a" stroke-width="1.4"/>
<line x1="304.7" y1="609" x2="382.6" y2="609" stroke="#2a2a2a" stroke-width="1.4"/>
<line x1="303.1" y1="568.7" x2="304.7" y2="568.7" stroke="#333" stroke-width="0.8"/>
<line x1="303.1" y1="589.8" x2="304.7" y2="589.8" stroke="#333" stroke-width="0.8"/>
<line x1="303.1" y1="612.5" x2="304.7" y2="612.5" stroke="#333" stroke-width="0.8"/>
<line x1="303.1" y1="620.9" x2="304.7" y2="620.9" stroke="#333" stroke-width="0.8"/>
<line x1="303.1" y1="627.9" x2="304.7" y2="627.9" stroke="#333" stroke-width="0.8"/>
<line x1="305.7" y1="635.6" x2="305.7" y2="637" stroke="#444" stroke-width="0.6"/>
<line x1="311.3" y1="635.6" x2="311.3" y2="637" stroke="#444" stroke-width="0.6"/>
<line x1="316.9" y1="635.6" x2="316.9" y2="637" stroke="#444" stroke-width="0.6"/>
<line x1="322.5" y1="635.6" x2="322.5" y2="637" stroke="#444" stroke-width="0.6"/>
<line x1="328.1" y1="635.6" x2="328.1" y2="637" stroke="#444" stroke-width="0.6"/>
<line x1="333.7" y1="635.6" x2="333.7" y2="637" stroke="#444" stroke-width="0.6"/>
<line x1="339.3" y1="635.6" x2="339.3" y2="637" stroke="#444" stroke-width="0.6"/>
<line x1="344.9" y1="635.6" x2="344.9" y2="637" stroke="#444" stroke-width="0.6"/>
<line x1="350.5" y1="635.6" x2="350.5" y2="637" stroke="#444" stroke-width="0.6"/>
<line x1="356.1" y1="635.6" x2="356.1" y2="637" stroke="#444" stroke-width="0.6"/>
<line x1="361.7" y1="635.6" x2="361.7" y2="637" stroke="#444" stroke-width="0.6"/>
<line x1="367.3" y1="635.6" x2="367.3" y2="637" stroke="#444" stroke-width="0.6"/>
<line x1="372.9" y1="635.6" x2="372.9" y2="637" stroke="#444" stroke-width="0.6"/>
<line x1="378.5" y1="635.6" x2="378.5" y2="637" stroke="#444" stroke-width="0.6"/>
<rect x="388.3" y="558.3" width="77.3" height="77.3" fill="none" stroke="#2a2a2a" stroke-width="1.3" rx="0.8"/>
<line x1="406" y1="558.3" x2="406" y2="635.6" stroke="#2a2a2a" stroke-width="1.4"/>
<line x1="388.3" y1="608.9" x2="465.6" y2="608.9" stroke="#2a2a2a" stroke-width="1.4"/>
<line x1="386.7" y1="568.7" x2="388.3" y2="568.7" stroke="#333" stroke-width="0.8"/>
<line x1="386.7" y1="589.8" x2="388.3" y2="589.8" stroke="#333" stroke-width="0.8"/>
<line x1="386.7" y1="612.5" x2="388.3" y2="612.5" stroke="#333" stroke-width="0.8"/>
<line x1="386.7" y1="620.9" x2="388.3" y2="620.9" stroke="#333" stroke-width="0.8"/>
<line x1="386.7" y1="627.9" x2="388.3" y2="627.9" stroke="#333" stroke-width="0.8"/>
<line x1="389.3" y1="635.6" x2="389.3" y2="637" stroke="#444" stroke-width="0.6"/>
<line x1="394.9" y1="635.6" x2="394.9" y2="637" stroke="#444" stroke-width="0.6"/>
<line x1="400.5" y1="635.6" x2="400.5" y2="637" stroke="#444" stroke-width="0.6"/>
<line x1="406.1" y1="635.6" x2="406.1" y2="637" stroke="#444" stroke-width="0.6"/>
<line x1="411.7" y1="635.6" x2="411.7" y2="637" stroke="#444" stroke-width="0.6"/>
<line x1="417.3" y1="635.6" x2="417.3" y2="637" stroke="#444" stroke-width="0.6"/>
<line x1="422.9" y1="635.6" x2="422.9" y2="637" stroke="#444" stroke-width="0.6"/>
<line x1="428.5" y1="635.6" x2="428.5" y2="637" stroke="#444" stroke-width="0.6"/>
<line x1="434.1" y1="635.6" x2="434.1" y2="637" stroke="#444" stroke-width="0.6"/>
<line x1="439.7" y1="635.6" x2="439.7" y2="637" stroke="#444" stroke-width="0.6"/>
<line x1="445.3" y1="635.6" x2="445.3" y2="637" stroke="#444" stroke-width="0.6"/>
<line x1="450.9" y1="635.6" x2="450.9" y2="637" stroke="#444" stroke-width="0.6"/>
<line x1="456.5" y1="635.6" x2="456.5" y2="637" stroke="#444" stroke-width="0.6"/>
<line x1="462.1" y1="635.6" x2="462.1" y2="637" stroke="#444" stroke-width="0.6"/>
<ellipse cx="318.5" cy="514.1" rx="1.4" ry="1.4" fill="#fff" stroke="#666" stroke-width="0.7"/>
<ellipse cx="318.6" cy="522.9" rx="2.4" ry="4.8" fill="#c4c4c4" stroke="#555" stroke-width="0.7"/>
<ellipse cx="318.6" cy="523.3" rx="1.2" ry="2.2" fill="#8a8a8a" stroke="#444" stroke-width="0.7"/>
<ellipse cx="318.7" cy="536.6" rx="3.1" ry="6.2" fill="#a8a8a8" stroke="#555" stroke-width="0.7"/>
<ellipse cx="318.7" cy="537.2" rx="2" ry="4.2" fill="#8c8c8c" stroke="#555" stroke-width="0.7"/>
<ellipse cx="318.7" cy="537.6" rx="0.9" ry="2.2" fill="#777" stroke="#666" stroke-width="0.7"/>
<circle cx="303.8" cy="543.1" r="1.0" fill="#000"/>
<ellipse cx="402.1" cy="525.8" rx="1.2" ry="1.2" fill="#fff" stroke="#777" stroke-width="0.7"/>
<ellipse cx="401.9" cy="536.1" rx="2.9" ry="6.2" fill="#b0b0b0" stroke="#666" stroke-width="0.7"/>
<ellipse cx="401.9" cy="536.8" rx="1.8" ry="4.2" fill="#8a8a8a" stroke="#555" stroke-width="0.7"/>
<circle cx="387.2" cy="543.1" r="0.9" fill="#000"/>
<ellipse cx="317.2" cy="601.2" rx="2.8" ry="6.2" fill="#c8c8c8" stroke="#444" stroke-width="0.7"/>
<ellipse cx="317.2" cy="600.5" rx="1.3" ry="2.8" fill="#888" stroke="#444" stroke-width="0.7"/>
<ellipse cx="316.9" cy="617" rx="3.8" ry="5.8" fill="#a0a0a0" stroke="#555" stroke-width="0.7"/>
<ellipse cx="316.9" cy="617.3" rx="2.5" ry="4" fill="#8c8c8c" stroke="#555" stroke-width="0.7"/>
<ellipse cx="316.9" cy="617.5" rx="1.2" ry="2" fill="#7a7a7a" stroke="#666" stroke-width="0.7"/>
<circle cx="316.8" cy="607.4" r="1.5" fill="#fff" stroke="#111" stroke-width="1.1"/>
<circle cx="303.4" cy="622.7" r="1.0" fill="#000"/>
<ellipse cx="400.9" cy="601" rx="3" ry="7.3" fill="#c0c0c0" stroke="#444" stroke-width="0.7"/>
<ellipse cx="400.9" cy="602.5" rx="1.4" ry="4.5" fill="#222" stroke="#111" stroke-width="0.7"/>
<ellipse cx="400.5" cy="617.5" rx="3.6" ry="6.3" fill="#a6a6a6" stroke="#555" stroke-width="0.7"/>
<ellipse cx="400.5" cy="617.8" rx="2.3" ry="4.3" fill="#8e8e8e" stroke="#555" stroke-width="0.7"/>
<ellipse cx="400.5" cy="618" rx="1" ry="2.2" fill="#7a7a7a" stroke="#666" stroke-width="0.7"/>
<circle cx="387.3" cy="622.7" r="0.9" fill="#000"/>
<text x="305.6" y="494" font-size="7.0" fill="#231f20" textLength="16.6" lengthAdjust="spacingAndGlyphs" stroke="#231f20" stroke-width="0.14">30.8%</text>
<text x="305.6" y="551.4" font-size="7.0" fill="#231f20" textLength="16.6" lengthAdjust="spacingAndGlyphs" stroke="#231f20" stroke-width="0.14">69.2%</text>
<text x="362.2" y="494" font-size="7.0" fill="#231f20" textLength="8.6" lengthAdjust="spacingAndGlyphs" stroke="#231f20" stroke-width="0.14">0%</text>
<text x="388.7" y="494.3" font-size="7.0" fill="#231f20" textLength="16.6" lengthAdjust="spacingAndGlyphs" stroke="#231f20" stroke-width="0.14">10.3%</text>
<text x="388.7" y="550.8" font-size="7.0" fill="#231f20" textLength="16.6" lengthAdjust="spacingAndGlyphs" stroke="#231f20" stroke-width="0.14">89.7%</text>
<text x="445.3" y="494.3" font-size="7.0" fill="#231f20" textLength="8.6" lengthAdjust="spacingAndGlyphs" stroke="#231f20" stroke-width="0.14">0%</text>
<text x="305.3" y="575.8" font-size="7.0" fill="#231f20" textLength="16.6" lengthAdjust="spacingAndGlyphs" stroke="#231f20" stroke-width="0.14">22.5%</text>
<text x="305.3" y="633.3" font-size="7.0" fill="#231f20" textLength="16.6" lengthAdjust="spacingAndGlyphs" stroke="#231f20" stroke-width="0.14">77.5%</text>
<text x="361.9" y="575.8" font-size="7.0" fill="#231f20" textLength="8.6" lengthAdjust="spacingAndGlyphs" stroke="#231f20" stroke-width="0.14">0%</text>
<text x="388.9" y="575.6" font-size="7.0" fill="#231f20" textLength="16.6" lengthAdjust="spacingAndGlyphs" stroke="#231f20" stroke-width="0.14">20.8%</text>
<text x="388.9" y="633.3" font-size="7.0" fill="#231f20" textLength="16.6" lengthAdjust="spacingAndGlyphs" stroke="#231f20" stroke-width="0.14">79.2%</text>
<text x="445.5" y="575.6" font-size="7.0" fill="#231f20" textLength="8.6" lengthAdjust="spacingAndGlyphs" stroke="#231f20" stroke-width="0.14">0%</text>
<text x="292.2" y="492.6" font-size="5.4" fill="#333" stroke="#333" stroke-width="0.14">10<tspan font-size="3.8" dy="-2.2">4</tspan></text>
<text x="292.2" y="513.2" font-size="5.4" fill="#333" stroke="#333" stroke-width="0.14">10<tspan font-size="3.8" dy="-2.2">3</tspan></text>
<text x="292.2" y="535.8" font-size="5.4" fill="#333" stroke="#333" stroke-width="0.14">10<tspan font-size="3.8" dy="-2.2">2</tspan></text>
<text x="294.2" y="545.2" font-size="5.4" fill="#333" stroke="#333" stroke-width="0.14">0</text>
<text x="292.2" y="552.7" font-size="5.4" fill="#333" stroke="#333" stroke-width="0.14">10<tspan font-size="3.8" dy="-2.2">−2</tspan></text>
<text x="292.2" y="570.2" font-size="5.4" fill="#333" stroke="#333" stroke-width="0.14">10<tspan font-size="3.8" dy="-2.2">4</tspan></text>
<text x="292.2" y="590.8" font-size="5.4" fill="#333" stroke="#333" stroke-width="0.14">10<tspan font-size="3.8" dy="-2.2">3</tspan></text>
<text x="292.2" y="613.4" font-size="5.4" fill="#333" stroke="#333" stroke-width="0.14">10<tspan font-size="3.8" dy="-2.2">2</tspan></text>
<text x="294.2" y="622.8" font-size="5.4" fill="#333" stroke="#333" stroke-width="0.14">0</text>
<text x="292.2" y="630.3" font-size="5.4" fill="#333" stroke="#333" stroke-width="0.14">10<tspan font-size="3.8" dy="-2.2">−2</tspan></text>
<text x="305.2" y="643.2" font-size="6.0" fill="#231f20" text-anchor="middle" textLength="3.2" lengthAdjust="spacingAndGlyphs" stroke="#231f20" stroke-width="0.14">0</text>
<text x="319.2" y="643.2" font-size="6.0" fill="#231f20" text-anchor="middle" textLength="9.4" lengthAdjust="spacingAndGlyphs" stroke="#231f20" stroke-width="0.14">50K</text>
<text x="334.9" y="643.2" font-size="6.0" fill="#231f20" text-anchor="middle" textLength="12.4" lengthAdjust="spacingAndGlyphs" stroke="#231f20" stroke-width="0.14">100K</text>
<text x="350.2" y="643.2" font-size="6.0" fill="#231f20" text-anchor="middle" textLength="12.4" lengthAdjust="spacingAndGlyphs" stroke="#231f20" stroke-width="0.14">150K</text>
<text x="365.5" y="643.2" font-size="6.0" fill="#231f20" text-anchor="middle" textLength="12.4" lengthAdjust="spacingAndGlyphs" stroke="#231f20" stroke-width="0.14">200K</text>
<text x="389.4" y="643.2" font-size="6.0" fill="#231f20" text-anchor="middle" textLength="3.2" lengthAdjust="spacingAndGlyphs" stroke="#231f20" stroke-width="0.14">0</text>
<text x="404.2" y="643.2" font-size="6.0" fill="#231f20" text-anchor="middle" textLength="9.4" lengthAdjust="spacingAndGlyphs" stroke="#231f20" stroke-width="0.14">50K</text>
<text x="418.5" y="643.2" font-size="6.0" fill="#231f20" text-anchor="middle" textLength="12.4" lengthAdjust="spacingAndGlyphs" stroke="#231f20" stroke-width="0.14">100K</text>
<text x="432.5" y="643.2" font-size="6.0" fill="#231f20" text-anchor="middle" textLength="12.4" lengthAdjust="spacingAndGlyphs" stroke="#231f20" stroke-width="0.14">150K</text>
<text x="446.8" y="643.2" font-size="6.0" fill="#231f20" text-anchor="middle" textLength="12.4" lengthAdjust="spacingAndGlyphs" stroke="#231f20" stroke-width="0.14">200K</text>
<text x="347.5" y="476.6" font-size="8.6" fill="#231f20" text-anchor="middle" font-style="italic" stroke="#231f20" stroke-width="0.14">Igf2bp2<tspan font-size="5.6" dy="-3.5" font-style="normal">+/+</tspan></text>
<text x="436" y="476.6" font-size="8.6" fill="#231f20" text-anchor="middle" font-style="italic" stroke="#231f20" stroke-width="0.14">Igf2bp2<tspan font-size="5.6" dy="-3.5" font-style="normal">−/−</tspan></text>
<line x1="284.3" y1="489" x2="284.3" y2="624.5" stroke="#000" stroke-width="1.2"/>
<polygon points="284.3,484.6 281.3,490.8 287.3,490.8" fill="#000"/>
<line x1="312.5" y1="647.2" x2="460.5" y2="647.2" stroke="#000" stroke-width="1.2"/>
<polygon points="465.8,647.2 459.4,644.2 459.4,650.2" fill="#000"/>
<text x="294.4" y="649.5" font-size="7" fill="#231f20" textLength="15.3" lengthAdjust="spacingAndGlyphs" stroke="#231f20" stroke-width="0.14">DAPI</text>
<text transform="translate(286.6,634.6) rotate(-90)" font-size="6.8" fill="#231f20" text-anchor="middle" textLength="13" lengthAdjust="spacingAndGlyphs" stroke="#231f20" stroke-width="0.14">Ki67</text>
<text transform="translate(278.2,521.2) rotate(-90)" font-size="9" fill="#231f20" text-anchor="middle" textLength="22.5" lengthAdjust="spacingAndGlyphs" stroke="#231f20" stroke-width="0.14">Young</text>
<text transform="translate(278.0,593.7) rotate(-90)" font-size="9" fill="#231f20" text-anchor="middle" textLength="12.2" lengthAdjust="spacingAndGlyphs" stroke="#231f20" stroke-width="0.14">Old</text>
<line x1="484.2" y1="503.6" x2="484.2" y2="528.7" stroke="#000" stroke-width="1.1"/>
<line x1="470.2" y1="517.1" x2="512.5" y2="517.1" stroke="#000" stroke-width="1.1"/>
<text x="472.6" y="513.7" font-size="8.4" fill="#231f20" stroke="#231f20" stroke-width="0.14">G<tspan font-size="5" dy="1.6">1</tspan></text>
<text x="485.4" y="513.7" font-size="8.4" fill="#231f20" textLength="27" lengthAdjust="spacingAndGlyphs" stroke="#231f20" stroke-width="0.14">G<tspan font-size="5" dy="1.6">2</tspan><tspan dy="-1.6">/S/M</tspan></text>
<text x="472.6" y="526.8" font-size="8.4" fill="#231f20" stroke="#231f20" stroke-width="0.14">G<tspan font-size="5" dy="1.6">0</tspan></text>
<rect x="0" y="0" width="520" height="1" fill="#000"/>
<rect x="0" y="0" width="1" height="656" fill="#000"/>
<rect x="518.7" y="0" width="1.3" height="656" fill="#000"/>
<rect x="0" y="654.7" width="520" height="1.3" fill="#000"/>
</svg></body></html>
